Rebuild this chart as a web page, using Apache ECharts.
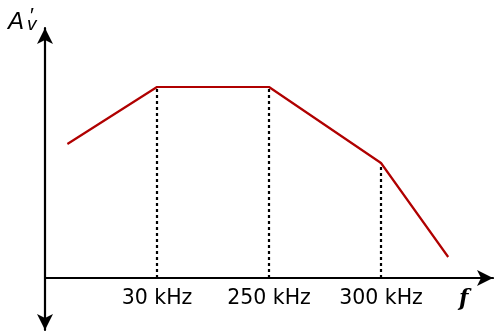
<!DOCTYPE html>
<html>
<head>
<meta charset="utf-8">
<script src="https://cdn.jsdelivr.net/npm/echarts@6/dist/echarts.min.js"></script>
<style>html,body{margin:0;padding:0;background:#fff}#c{width:494px;height:333px}</style>
</head>
<body>
<div id="c"></div>
<script>
// Response curve (x in arbitrary frequency-axis units, y in arbitrary gain units)
var curveX = [0.2, 1, 2, 3, 3.6];
var curveY = [134, 191, 191, 115, 21];
// Break points with dotted drop lines
var dropX = [1, 2, 3];
var dropY = [191, 191, 115];
// Tick labels at break points
var tickLabels = {1: '30 kHz', 2: '250 kHz', 3: '300 kHz'};

var chart = echarts.init(document.getElementById('c'));
var series = [{
  type: 'line',
  data: curveX.map(function (x, i) { return [x, curveY[i]]; }),
  symbol: 'none',
  lineStyle: { color: '#b00000', width: 2.2 },
  z: 3
}];
dropX.forEach(function (x, i) {
  series.push({
    type: 'line',
    data: [[x, 0], [x, dropY[i]]],
    symbol: 'none',
    lineStyle: { color: '#000', width: 2.2, type: [3, 3] },
    z: 2
  });
});
function ttl(left, top, text, size, style, weight, family) {
  return { left: left, top: top, padding: 0, text: text,
    textStyle: { fontSize: size, fontStyle: style, fontWeight: weight || 'normal',
      fontFamily: family || 'Liberation Sans', color: '#000' } };
}
chart.setOption({
  animation: false,
  title: [
    ttl(8, 10, 'A', 24, 'italic'),
    ttl(29, 6, '\u2032', 21, 'italic'),
    ttl(27, 15, 'v', 19, 'italic'),
    ttl(459, 288, 'f', 22, 'italic', 'bold', 'DejaVu Serif')
  ],
  grid: { left: 45, right: 1, top: 28, bottom: 3, outerBoundsMode: 'none', containLabel: false },
  xAxis: [{
    type: 'value', min: 0, max: 4, interval: 1,
    axisLine: { onZero: true, symbol: ['none', 'arrow'], symbolSize: [12, 16], lineStyle: { color: '#000', width: 2.2 } },
    axisTick: { show: false },
    splitLine: { show: false },
    axisLabel: { show: false }
  }, {
    type: 'value', min: 0, max: 4, interval: 1, position: 'bottom', offset: -52,
    axisLine: { show: false },
    axisTick: { show: false },
    splitLine: { show: false },
    axisLabel: {
      margin: 10, color: '#000', fontSize: 20.5, fontFamily: 'DejaVu Sans',
      formatter: function (v) { return tickLabels[v] || ''; }
    }
  }],
  yAxis: {
    type: 'value', min: -52, max: 250,
    axisLine: { show: true, symbol: ['arrow', 'arrow'], symbolSize: [12, 16], lineStyle: { color: '#000', width: 2.2 } },
    axisTick: { show: false },
    splitLine: { show: false },
    axisLabel: { show: false }
  },
  series: series
});
</script>
</body>
</html>
